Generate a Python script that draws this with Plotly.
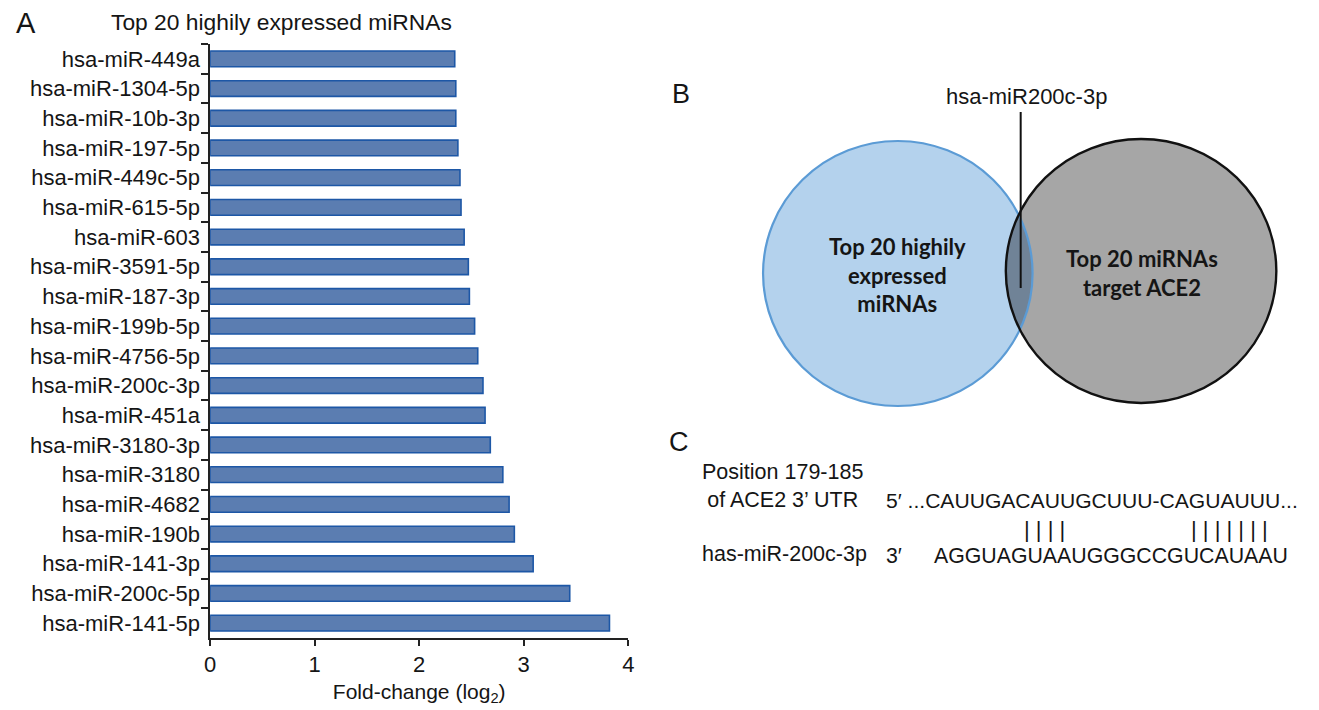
import numpy as np
import plotly.graph_objects as go

# ---------------- data ----------------
mirnas = [
    "hsa-miR-449a", "hsa-miR-1304-5p", "hsa-miR-10b-3p", "hsa-miR-197-5p",
    "hsa-miR-449c-5p", "hsa-miR-615-5p", "hsa-miR-603", "hsa-miR-3591-5p",
    "hsa-miR-187-3p", "hsa-miR-199b-5p", "hsa-miR-4756-5p", "hsa-miR-200c-3p",
    "hsa-miR-451a", "hsa-miR-3180-3p", "hsa-miR-3180", "hsa-miR-4682",
    "hsa-miR-190b", "hsa-miR-141-3p", "hsa-miR-200c-5p", "hsa-miR-141-5p",
]
fold_change = [
    2.34, 2.35, 2.35, 2.37, 2.39, 2.40, 2.43, 2.47, 2.48, 2.53,
    2.56, 2.61, 2.63, 2.68, 2.80, 2.86, 2.91, 3.09, 3.44, 3.82,
]
x_ticks = [0, 1, 2, 3, 4]

venn_left_label = "Top 20 highily<br>expressed<br>miRNAs"
venn_right_label = "Top 20 miRNAs<br>target ACE2"
venn_overlap_label = "hsa-miR200c-3p"

utr_label = "Position 179-185<br>of ACE2 3\u2019 UTR"
mirna_label = "has-miR-200c-3p"
utr_seq = "5\u2032 ...CAUUGACAUUGCUUU-CAGUAUUU..."
mirna_prime = "3\u2032"
mirna_seq = "AGGUAGUAAUGGGCCGUCAUAAU"
pairs_1 = "| | | |"
pairs_2 = "| | | | | | |"

# ---------------- styling ----------------
W, H = 1319, 710
FONT = "Liberation Sans, Arial, Helvetica, sans-serif"
VFONT = "Lato, Calibri, sans-serif"
TXT = "#151515"

fig = go.Figure()

fig.add_trace(go.Bar(
    x=fold_change, y=mirnas, orientation="h", width=0.53,
    marker=dict(color="#5b7db1", line=dict(color="#1d57a6", width=1.6)),
    xaxis="x", yaxis="y", hoverinfo="x+y", showlegend=False,
))

# ---------------- Venn diagram (pixel-coordinate overlay axes) ----------------
blue = dict(cx=900, cy=273.5, rx=136, ry=132.5)
gray = dict(cx=1145.5, cy=271, rx=136.5, ry=132)


def inside(px, py, e):
    return ((px - e["cx"]) / e["rx"]) ** 2 + ((py - e["cy"]) / e["ry"]) ** 2 <= 1.0


t1 = np.linspace(-np.pi / 2, np.pi / 2, 600)
bx = blue["cx"] + blue["rx"] * np.cos(t1)
by = blue["cy"] + blue["ry"] * np.sin(t1)
m1 = inside(bx, by, gray)
t2 = np.linspace(np.pi / 2, 3 * np.pi / 2, 600)
gx = gray["cx"] + gray["rx"] * np.cos(t2)
gy = gray["cy"] + gray["ry"] * np.sin(t2)
m2 = inside(gx, gy, blue)
lens_x = np.concatenate([bx[m1], gx[m2], bx[m1][:1]])
lens_y = np.concatenate([by[m1], gy[m2], by[m1][:1]])

fig.add_trace(go.Scatter(
    x=lens_x, y=lens_y, mode="lines", fill="toself", fillcolor="#708397",
    line=dict(width=0, color="#708397"), xaxis="x2", yaxis="y2",
    hoverinfo="skip", showlegend=False,
))


def ell(e, **kw):
    return dict(type="circle", xref="x2", yref="y2",
                x0=e["cx"] - e["rx"], x1=e["cx"] + e["rx"],
                y0=e["cy"] - e["ry"], y1=e["cy"] + e["ry"], **kw)


shapes = [
    ell(blue, fillcolor="#b4d2ed", line=dict(width=0), layer="below"),
    ell(gray, fillcolor="#a6a6a6", line=dict(width=0), layer="below"),
    ell(blue, fillcolor="rgba(0,0,0,0)", line=dict(color="#5b9bd5", width=2.2), layer="above"),
    ell(gray, fillcolor="rgba(0,0,0,0)", line=dict(color="#111111", width=2.4), layer="above"),
    dict(type="line", xref="x2", yref="y2", x0=1024, x1=1024, y0=112, y1=288,
         line=dict(color="#111111", width=2), layer="above"),
]

ann = []


def txt(x, y, text, size, xanchor="center", family=FONT, color=TXT, **kw):
    ann.append(dict(x=x, y=y, xref="x2", yref="y2", text=text, showarrow=False,
                    xanchor=xanchor, yanchor="middle",
                    font=dict(family=family, size=size, color=color), **kw))


# Panel A texts
txt(20, 23, "A", 29)
txt(278, 22, "Top 20 highily expressed miRNAs", 22.8)
# Panel B texts
txt(681, 94, "B", 27)
txt(1030, 96, venn_overlap_label, 22)
txt(900, 275, "<b>" + venn_left_label + "</b>", 22, family=VFONT)
txt(1146, 273, "<b>" + venn_right_label + "</b>", 22, family=VFONT)
# Panel C texts
txt(679, 442, "C", 27)
txt(784, 486, utr_label, 21.5)
txt(786, 554, mirna_label, 21.5)
txt(886, 500, utr_seq, 21.1, xanchor="left")
txt(886, 556, mirna_prime, 21.3, xanchor="left")
txt(934, 556, mirna_seq, 21.3, xanchor="left")
txt(1048, 529, pairs_1, 22)
txt(1235, 529, pairs_2, 22)

fig.update_layout(
    width=W, height=H,
    margin=dict(l=0, r=0, t=0, b=0),
    paper_bgcolor="white", plot_bgcolor="rgba(0,0,0,0)",
    font=dict(family=FONT, color=TXT),
    shapes=shapes, annotations=ann,
    xaxis=dict(
        domain=[206 / W, 628 / W], anchor="y", range=[0, 4],
        tickvals=x_ticks, ticktext=[str(v) for v in x_ticks],
        ticks="outside", ticklen=6, tickwidth=1.5, tickcolor="#222",
        showline=True, linecolor="#222", linewidth=1.5,
        showgrid=False, zeroline=False,
        tickfont=dict(size=22, family=FONT, color=TXT),
        title=dict(text="Fold-change (log<sub>2</sub>)",
                   font=dict(size=21, family=FONT, color=TXT), standoff=8),
        fixedrange=True,
    ),
    yaxis=dict(
        domain=[(H - 638) / H, (H - 44) / H], anchor="x",
        type="category", categoryorder="array", categoryarray=mirnas,
        range=[19.5, -0.5],
        ticks="outside", tickson="boundaries", ticklen=7, tickwidth=1.5, tickcolor="#222",
        showline=True, linecolor="#222", linewidth=1.5,
        showgrid=False, zeroline=False,
        tickfont=dict(size=22, family=FONT, color=TXT),
        ticklabelstandoff=4,
        fixedrange=True,
    ),
    xaxis2=dict(domain=[0, 1], anchor="y2", range=[0, W], visible=False, fixedrange=True),
    yaxis2=dict(domain=[0, 1], anchor="x2", range=[H, 0], visible=False, fixedrange=True),
)

fig.write_html(
    "out.html",
    config={"displayModeBar": False},
    post_script="document.body.style.margin='0';document.body.style.overflow='hidden';",
)
